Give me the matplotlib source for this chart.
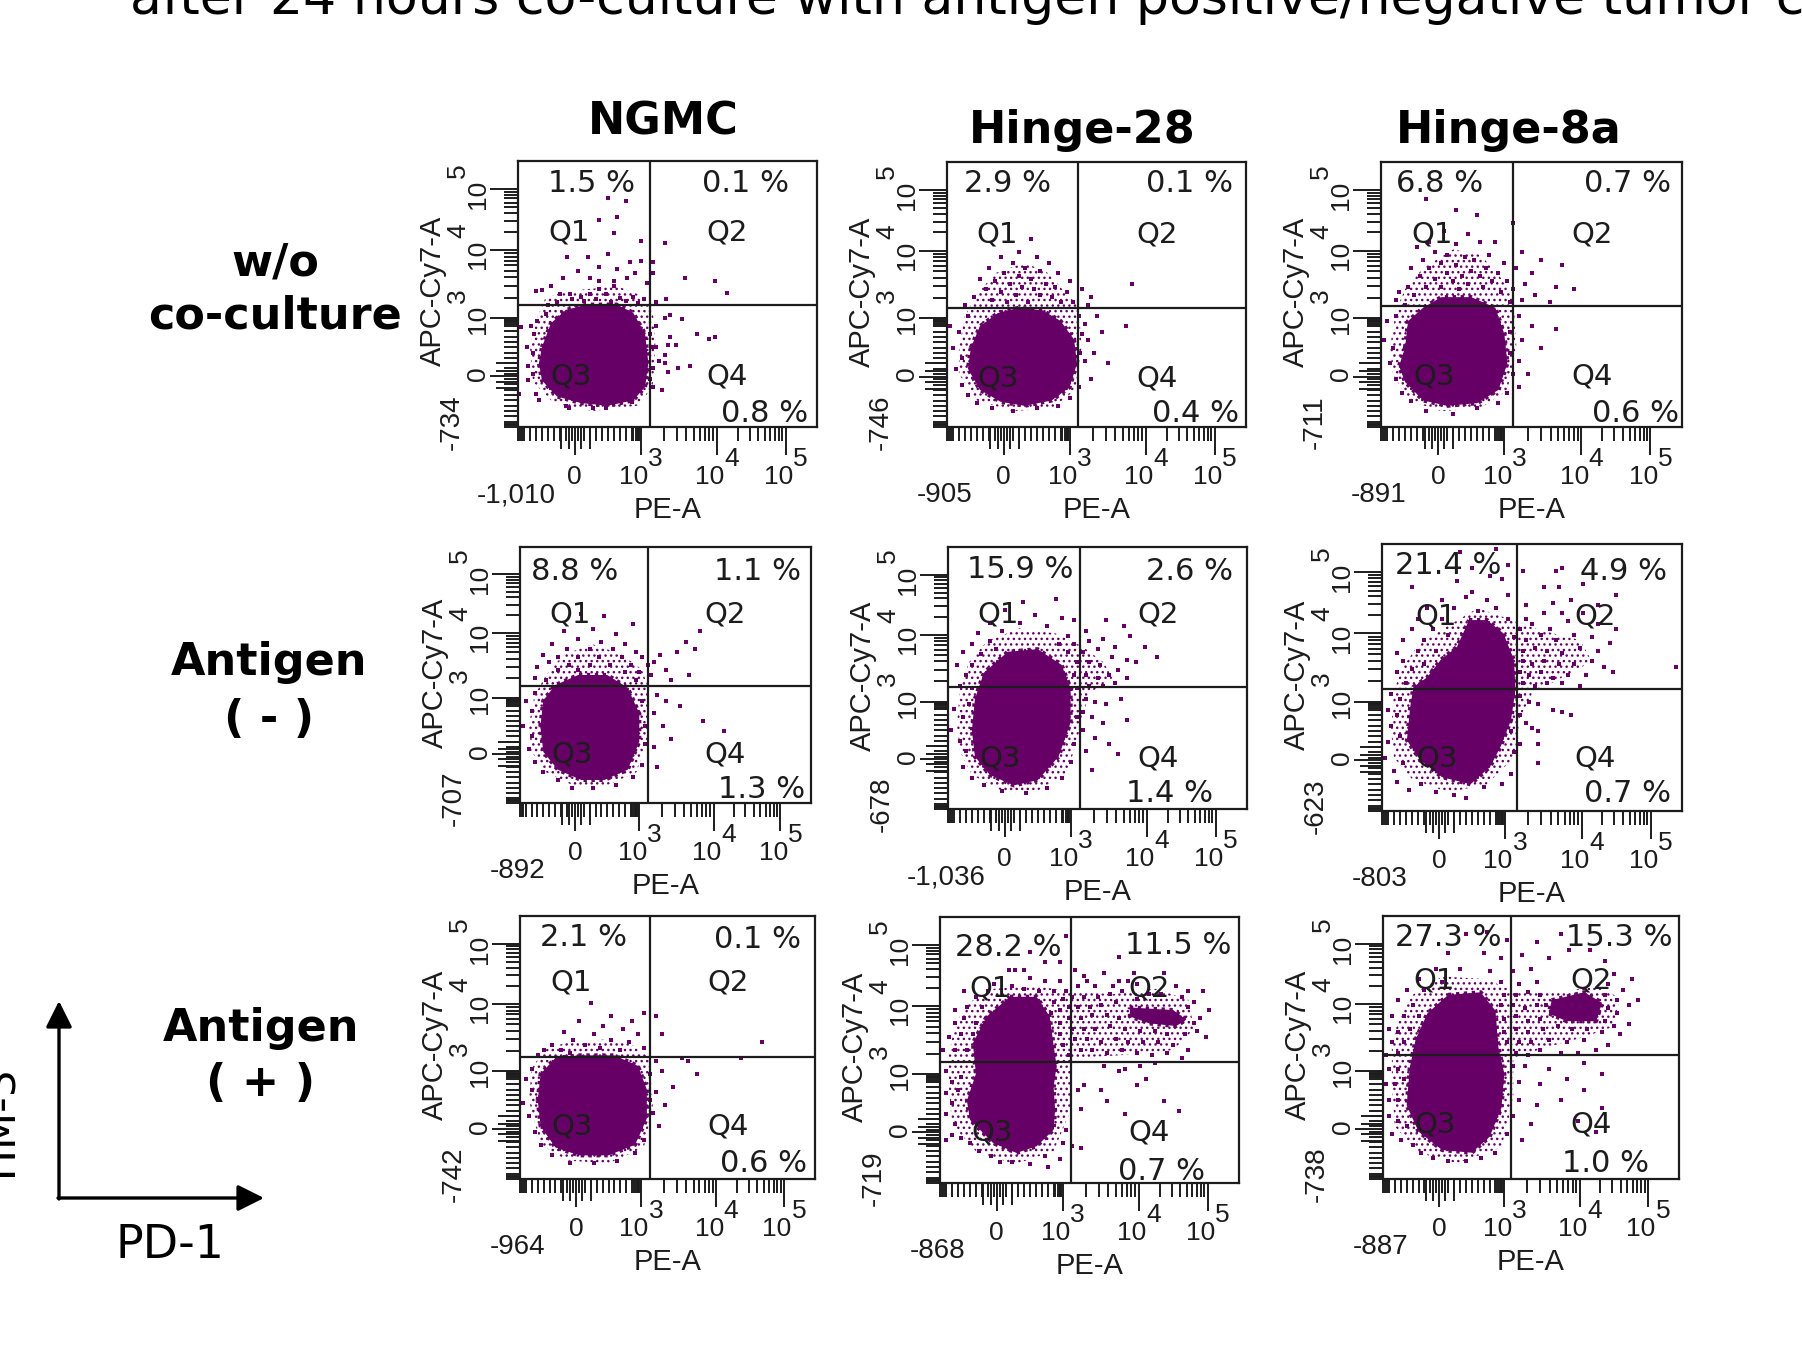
import numpy as np
import matplotlib
matplotlib.use('Agg')
import matplotlib.pyplot as plt

W, H = 1802, 1363
PURPLE = '#660066'
INK = '#1c1c1c'

# everything below is in channel units, 0-100 across each plot box
x_ticks_major = [19, 41, 66.5, 89.5]
y_ticks_major = [20, 42.7, 67, 89.7]

# panel boxes: left, right, top, bottom, x gate, y gate
boxes = [
    [518, 817, 161, 427, 44.0, 45.8], [947, 1246, 162, 427, 43.8, 45.0], [1381, 1682, 162, 427, 43.9, 45.7],
    [520, 811, 547, 803, 44.0, 45.7], [948, 1247, 547, 809, 44.1, 46.6], [1382, 1682, 544, 811, 45.0, 45.7],
    [520, 815, 916, 1179, 44.0, 46.4], [940, 1239, 917, 1183, 43.8, 45.5], [1383, 1679, 916, 1179, 43.2, 47.0],
]
x_low_labels = ['-1,010', '-905', '-891', '-892', '-1,036', '-803', '-964', '-868', '-887']
y_low_labels = ['-734', '-746', '-711', '-707', '-678', '-623', '-742', '-719', '-738']

pct_q1 = ['1.5 %', '2.9 %', '6.8 %', '8.8 %', '15.9 %', '21.4 %', '2.1 %', '28.2 %', '27.3 %']
pct_q2 = ['0.1 %', '0.1 %', '0.7 %', '1.1 %', '2.6 %', '4.9 %', '0.1 %', '11.5 %', '15.3 %']
pct_q4 = ['0.8 %', '0.4 %', '0.6 %', '1.3 %', '1.4 %', '0.7 %', '0.6 %', '0.7 %', '1.0 %']
pos_q1 = [(591, 184), (1008, 184), (1440, 184), (575, 572), (1020, 570), (1448, 566), (584, 937), (1008, 948), (1448, 937)]
pos_q2 = [(745, 184), (1189, 184), (1628, 184), (758, 572), (1189, 572), (1624, 572), (758, 940), (1178, 945), (1619, 937)]
pos_q4 = [(765, 413), (1196, 414), (1636, 414), (762, 790), (1170, 794), (1628, 794), (764, 1164), (1162, 1171), (1606, 1164)]
pos_gate = [
    [(569, 232), (727, 232), (571, 376), (727, 376)], [(997, 234), (1157, 234), (998, 378), (1157, 378)],
    [(1432, 234), (1592, 234), (1434, 376), (1592, 377)], [(570, 615), (725, 615), (572, 754), (725, 754)],
    [(998, 615), (1158, 615), (1000, 758), (1158, 758)], [(1436, 616), (1595, 616), (1437, 758), (1595, 758)],
    [(571, 983), (728, 983), (572, 1127), (728, 1127)], [(990, 989), (1149, 989), (992, 1132), (1149, 1132)],
    [(1434, 981), (1591, 981), (1435, 1125), (1591, 1125)],
]

# solid middle of each cloud
core_ngmc_none = [(8, 30), (11, 39), (16, 44), (23, 46), (33, 46), (38.5, 43), (42.5, 35), (43.6, 24), (42.5, 15), (38.5, 10), (30, 8), (21, 9), (13, 11.5), (8, 17.5), (7, 24)]
core_h28_none = [(8, 30), (11, 38), (17, 43), (24, 45), (32, 44), (38, 40), (42.5, 33), (43.5, 24), (41, 15), (35, 10), (26, 8), (18, 9.5), (11, 14), (7, 22)]
core_h8a_none = [(8, 30), (9, 40), (14, 45), (20, 49), (30, 49), (38, 45), (41, 35), (42, 24), (39, 14), (32, 9), (22, 8), (14, 10), (8, 17), (6, 23)]
core_ngmc_neg = [(7, 30), (8, 40), (12, 46), (20, 50), (30, 50), (37, 45), (41, 35), (41, 24), (37, 13), (29, 9), (21, 9), (13, 13), (8, 20)]
core_h28_neg = [(8, 30), (9, 42), (12, 52), (20, 60), (30, 61), (38, 55), (41, 46), (41, 33), (37, 20), (30, 11), (22, 9), (14, 13), (9, 20)]
core_h8a_neg = [(29, 71.5), (35, 71.5), (40.5, 66.5), (44, 56.5), (44.5, 45.5), (43, 34), (39.5, 24), (36, 16.5), (29.5, 10), (20, 12.7), (12.8, 19), (8.3, 26.5), (9.4, 39), (10.5, 46.5), (15, 50), (19.5, 56.5), (25, 61.5)]
core_ngmc_pos = [(6, 30), (7, 40), (12, 46), (20, 47), (32, 47), (40, 43), (43, 34), (43, 23), (39, 13), (30, 9), (20, 9), (12, 12), (7, 20)]
core_h28_pos = [(23.4, 70), (32.3, 70), (36.7, 62.6), (37.9, 52.6), (39, 44), (38, 36), (38.5, 27.6), (38, 20), (32.3, 13.8), (25.6, 11.3), (17.8, 15), (10, 23.8), (9, 31), (12, 41), (11, 52.6), (15.6, 62.6)]
core_h28_pos2 = [(63.5, 66), (78, 65), (82.4, 61.4), (79, 59), (70, 60), (63.5, 62.6)]
core_h8a_pos = [(22, 70), (33, 71), (38, 64), (39, 50), (41, 40), (40, 27), (36, 16), (30, 10), (20, 11), (12, 18), (8, 28), (9, 42), (11, 53), (15, 63)]
core_h8a_pos2 = [(57, 68), (68, 71), (74, 67), (72, 60), (62, 60), (56, 63)]

# speckled shoulder around each core
halo_ngmc_none = [(4, 30), (6, 40), (9, 48), (15, 51), (25, 52), (33, 53), (40, 50), (45, 45), (46, 30), (45, 15), (40, 8), (25, 6), (12, 9), (5, 17)]
halo_h28_none = [(4, 30), (6, 42), (10, 50), (16, 58), (26, 62), (34, 58), (40, 50), (44, 46), (45, 30), (43, 14), (35, 7), (22, 6), (10, 10), (4, 20)]
halo_h8a_none = [(3, 30), (5, 44), (8, 52), (14, 60), (24, 67), (33, 65), (40, 56), (44, 48), (45, 30), (42, 14), (33, 7), (20, 6), (9, 10), (4, 20)]
halo_ngmc_neg = [(3, 30), (5, 42), (9, 50), (15, 58), (25, 62), (35, 58), (42, 52), (44, 45), (44, 25), (40, 12), (30, 7), (18, 7), (9, 12), (4, 20)]
halo_h28_neg = [(3, 32), (4, 46), (7, 56), (13, 64), (24, 69), (36, 67), (45, 62), (52, 56), (55, 50), (47, 44), (44, 30), (40, 14), (30, 7), (18, 7), (8, 13), (4, 22)]
halo_h8a_neg = [(3, 30), (4, 45), (7, 54), (12, 62), (20, 68), (32, 76), (42, 72), (52, 68), (66, 64), (70, 56), (60, 50), (50, 44), (46, 35), (44, 20), (35, 10), (22, 7), (10, 12), (4, 20)]
halo_ngmc_pos = [(3, 30), (4, 42), (8, 49), (16, 52), (28, 53), (38, 51), (44, 46), (45, 28), (42, 12), (30, 6), (16, 7), (7, 13)]
halo_h28_pos = [(3, 36), (3, 48), (5, 60), (10, 68), (18, 73), (32, 74), (44, 72), (58, 71), (72, 73), (83, 69), (85, 58), (78, 50), (60, 48), (44, 47), (44, 28), (38, 12), (25, 7), (12, 12), (4, 22)]
halo_h8a_pos = [(3, 36), (3, 50), (5, 60), (10, 70), (20, 77), (35, 76), (45, 71), (58, 71), (72, 73), (80, 69), (78, 58), (68, 54), (55, 50), (44, 46), (44, 30), (40, 12), (25, 6), (12, 10), (4, 20)]

# scattered single events
dots_ngmc_none = [(30, 86), (36, 85), (27, 78), (33, 79), (32, 73), (41, 70), (49, 69), (30, 65), (23.5, 64), (16.5, 64), (37.5, 62), (41, 62.5), (45, 62), (27, 60), (20, 58.5), (33, 59.5), (15, 56), (39, 58), (56, 56), (66, 55), (70, 50.5), (45, 58), (27, 55), (32, 55), (36.5, 56), (43, 54), (24, 56), (6, 51), (8, 51.5), (11, 53), (14, 50), (17.5, 50), (21, 49), (24, 50), (27, 52), (29.5, 50), (32, 53), (34, 48.5), (38.5, 49), (42, 48), (49.5, 48), (46, 47), (51, 42), (55, 40.5), (46, 38), (49, 41), (51, 34), (53, 31), (50, 31), (60, 35), (64, 33), (66, 34), (49, 27), (49, 24), (53.5, 22), (57.5, 23), (50, 20.5), (48, 14), (46, 30), (47, 25), (1, 37.5), (4.5, 38), (5.5, 35), (3, 30), (5, 28), (3.5, 23), (5, 20), (3.5, 17.5), (6, 12.5), (0.5, 12.5), (7, 10), (6.5, 40), (9.5, 42.5), (16, 8), (17, 7), (25, 7), (29.5, 7), (38, 9.5), (45, 15), (45, 22), (45, 30), (44, 35), (44, 18), (10, 46), (13, 47), (18, 48), (22, 47.5), (26, 48), (31, 47), (36, 47.5), (40, 46.5)]
dots_h28_none = [(28, 71), (24, 66), (30, 64), (18, 64), (34, 62), (22, 62), (26, 60), (14, 60), (31, 59), (37, 58), (19, 58), (41, 55), (24, 57), (28, 56), (11, 56), (16, 55), (21, 54), (33, 54), (36, 53), (25, 53), (29, 52), (13, 52), (18, 51), (40, 51), (45, 52), (48, 49), (23, 50), (31, 50), (35, 49), (9, 49), (15, 48), (20, 47), (27, 47), (38, 47), (42, 47), (6, 46), (47, 46), (50, 42), (46, 39), (52, 36), (47, 33), (60, 38), (49, 28), (46, 25), (54, 24), (48, 18), (62, 54), (1, 38), (4, 36), (2, 30), (5, 26), (3, 22), (5, 16), (7, 12), (10, 9), (15, 7), (22, 6), (30, 7), (37, 8), (41, 11), (44, 15), (44.5, 28), (45, 35), (7, 42), (44, 42)]
dots_h8a_none = [(15, 86), (25, 82), (32, 80), (38, 70), (44, 77), (21, 74), (29, 73), (16, 70), (33, 70), (12, 68), (25, 69), (18, 66), (36, 65), (22, 65), (28, 64), (31, 63), (14, 63), (41, 62), (47, 66), (53, 63), (60, 61), (20, 62), (25, 61), (35, 60), (10, 60), (16, 60), (30, 59), (39, 58), (45, 60), (50, 58), (22, 58), (27, 57), (33, 57), (13, 57), (18, 56), (37, 55), (42, 55), (48, 54), (58, 53), (24, 55), (29, 54), (9, 53), (15, 53), (20, 53), (34, 53), (44, 52), (51, 50), (64, 52), (6, 51), (11, 50), (26, 52), (40, 51), (47, 48), (56, 47), (5, 48), (43, 47), (46, 42), (50, 38), (58, 37), (47, 33), (53, 30), (46, 25), (49, 20), (46, 15), (2, 40), (5, 42), (1, 33), (4, 30), (3, 24), (5, 18), (7, 13), (10, 10), (15, 6), (24, 5), (32, 7), (39, 9), (42, 13), (44, 20), (43, 28), (43, 36), (8, 46)]
dots_ngmc_neg = [(21, 74), (29, 73), (39, 70), (25, 68), (15, 67), (33, 66), (20, 64), (28, 63), (11, 62), (36, 62), (16, 60), (24, 60), (32, 60), (40, 59), (8, 58), (13, 57), (20, 57), (27, 57), (35, 57), (42, 57), (10, 55), (17, 54), (24, 54), (31, 54), (38, 54), (44, 54), (6, 53), (13, 52), (20, 52), (36, 51), (41, 51), (46, 55), (5, 49), (9, 48), (40, 48), (45, 50), (50, 52), (54, 59), (57, 63), (62, 67), (60, 60), (48, 58), (52, 48), (58, 50), (47, 42), (50, 40), (55, 38), (46, 35), (49, 30), (52, 25), (46, 22), (63, 32), (70, 28), (47, 14), (2, 40), (4, 36), (1, 30), (4, 26), (3, 21), (5, 16), (8, 12), (13, 9), (18, 6), (25, 6), (33, 7), (39, 10), (42, 15), (43, 23), (43, 30), (42, 40), (5, 43)]
dots_h28_neg = [(25, 79), (36, 80), (19, 76), (29, 74), (38, 73), (14, 71), (24, 71), (33, 70), (42, 72), (10, 67), (18, 68), (40, 66), (46, 68), (53, 72), (59, 70), (8, 63), (14, 64), (37, 63), (42, 63), (47, 64), (52, 65), (56, 62), (61, 66), (5, 60), (11, 59), (16, 61), (40, 60), (45, 60), (50, 61), (55, 58), (60, 57), (66, 62), (3, 55), (8, 55), (43, 56), (47, 56), (51, 55), (57, 53), (63, 56), (70, 58), (6, 51), (42, 51), (46, 51), (50, 50), (54, 51), (60, 50), (4, 47), (8, 46), (43, 46), (47, 47), (52, 47), (56, 48), (46, 42), (49, 41), (53, 40), (58, 42), (45, 37), (48, 35), (52, 33), (60, 34), (45, 30), (49, 27), (54, 25), (46, 22), (57, 21), (48, 15), (2, 38), (5, 35), (1, 30), (4, 26), (6, 22), (5, 16), (8, 12), (12, 9), (18, 7), (26, 6), (33, 8), (38, 12), (41, 18), (42, 25), (43, 35), (7, 40)]
dots_h8a_neg = [(26, 97), (38, 98), (30, 91), (36, 88), (42, 92), (47, 90), (58, 90), (60, 91), (10, 84), (25, 86), (40, 87), (54, 84), (59, 84), (67, 85), (78, 81), (30, 82), (20, 79), (28, 80), (35, 79), (42, 81), (15, 76), (24, 76), (32, 75), (38, 76), (48, 77), (57, 78), (63, 79), (72, 77), (12, 72), (20, 72), (42, 72), (48, 72), (54, 74), (60, 74), (67, 74), (10, 68), (17, 68), (46, 68), (50, 70), (56, 68), (62, 71), (72, 70), (78, 68), (7, 64), (14, 64), (22, 66), (44, 65), (48, 64), (53, 66), (58, 64), (64, 66), (70, 65), (76, 63), (5, 59), (12, 60), (18, 60), (47, 60), (51, 61), (55, 60), (60, 59), (66, 61), (72, 60), (7, 56), (14, 55), (47, 56), (50, 55), (54, 56), (59, 55), (64, 55), (70, 56), (5, 52), (10, 53), (46, 52), (49, 51), (53, 52), (57, 50), (62, 51), (68, 51), (74, 54), (77, 52), (8, 48), (47, 48), (51, 47), (55, 48), (60, 48), (66, 47), (98, 54), (3, 44), (6, 42), (46, 43), (49, 41), (52, 40), (57, 38), (60, 37), (63, 36), (2, 38), (5, 36), (46, 36), (48, 33), (50, 31), (52, 30), (3, 32), (6, 28), (2, 26), (1, 20), (4, 15), (7, 18), (5, 11), (9, 8), (13, 10), (18, 7), (24, 6), (28, 5), (34, 9), (40, 10), (43, 14), (46, 25), (52, 25), (52, 18), (44, 22), (43, 30)]
dots_ngmc_pos = [(24, 67), (31, 62), (38, 60), (42, 63), (20, 60), (28, 58), (35, 57), (15, 56), (25, 55), (40, 55), (18, 53), (31, 53), (46, 62), (48, 55), (11, 51), (22, 51), (37, 52), (8, 49), (14, 49), (27, 50), (42, 50), (6, 47), (17, 48), (34, 49), (46, 45), (55, 46), (60, 40), (48, 41), (52, 35), (57, 45), (75, 46), (82, 52), (46, 33), (49, 28), (45, 25), (47, 20), (2, 38), (4, 34), (1, 29), (3, 24), (5, 18), (7, 13), (11, 9), (17, 6), (25, 6), (33, 7), (39, 10), (42, 15), (44, 30), (44, 40), (4, 42)]
dots_h28_pos = [(42, 93), (30, 87), (35, 83), (40, 83), (60, 85), (23, 80), (25, 80), (28, 80), (45, 80), (48, 78), (55, 79), (65, 79), (75, 79), (30, 77), (35, 76), (40, 76), (49, 76), (60, 76), (18, 75), (24, 74), (28, 73), (33, 72), (38, 72), (42, 72), (46, 74), (52, 74), (58, 74), (63, 76), (66, 75), (79, 74), (83, 72), (88, 72), (8, 72), (12, 70), (16, 72), (38, 68), (41, 69), (44, 70), (48, 70), (53, 70), (57, 71), (61, 72), (70, 71), (74, 71), (81, 70), (85, 68), (90, 65), (5, 65), (9, 66), (14, 66), (37, 64), (40, 65), (43, 66), (46, 66), (50, 66), (54, 67), (59, 68), (66, 69), (83, 66), (87, 62), (5, 60), (8, 62), (12, 60), (40, 60), (43, 62), (47, 62), (51, 63), (56, 63), (60, 62), (85, 60), (89, 55), (3, 55), (7, 56), (11, 56), (40, 56), (44, 58), (48, 58), (52, 58), (57, 59), (62, 58), (67, 57), (72, 57), (76, 56), (82, 56), (86, 57), (1, 50), (5, 50), (9, 50), (41, 52), (45, 54), (49, 54), (54, 53), (59, 54), (63, 53), (68, 53), (73, 53), (78, 52), (83, 50), (47, 50), (51, 50), (56, 49), (61, 50), (66, 49), (71, 48), (76, 49), (81, 47), (43, 48), (2, 42), (4, 38), (7, 40), (2, 34), (4, 30), (6, 35), (2, 26), (5, 22), (2, 16), (4, 18), (7, 17), (10, 15), (13, 12), (17, 10), (20, 8), (24, 8), (30, 7), (35, 10), (40, 9), (36, 6), (41, 15), (42, 20), (44, 14), (47, 13), (46, 35), (48, 37), (54, 35), (56, 31), (60, 42), (55, 44), (62, 43), (67, 44), (72, 45), (66, 37), (69, 39), (75, 31), (80, 27), (62, 26), (47, 28)]
dots_h8a_pos = [(28, 93), (35, 94), (42, 91), (52, 90), (60, 93), (70, 87), (22, 86), (34, 86), (40, 84), (47, 85), (56, 84), (63, 87), (75, 83), (18, 80), (26, 80), (36, 79), (44, 79), (50, 80), (78, 78), (84, 76), (12, 76), (20, 75), (40, 75), (46, 74), (52, 75), (76, 74), (81, 72), (8, 72), (14, 72), (41, 70), (45, 70), (49, 71), (53, 70), (75, 70), (79, 68), (83, 66), (5, 68), (10, 66), (40, 66), (44, 66), (48, 65), (52, 66), (55, 66), (76, 65), (79, 63), (86, 68), (3, 62), (7, 62), (12, 62), (41, 61), (45, 62), (49, 60), (53, 61), (75, 60), (78, 58), (83, 59), (2, 57), (5, 56), (9, 57), (41, 56), (45, 57), (49, 56), (54, 57), (59, 58), (64, 57), (69, 57), (74, 56), (80, 55), (3, 52), (7, 52), (42, 52), (46, 52), (50, 52), (56, 53), (62, 52), (68, 53), (76, 51), (1, 47), (5, 48), (45, 48), (49, 47), (53, 49), (60, 48), (66, 48), (72, 49), (2, 42), (5, 42), (44, 43), (48, 43), (56, 42), (68, 44), (74, 40), (1, 36), (4, 36), (7, 38), (46, 37), (53, 36), (62, 38), (68, 34), (2, 30), (5, 30), (46, 30), (52, 28), (60, 30), (74, 27), (2, 24), (5, 22), (8, 20), (44, 24), (50, 21), (66, 22), (3, 17), (6, 15), (10, 13), (42, 17), (47, 15), (72, 18), (13, 10), (17, 8), (22, 7), (28, 7), (33, 8), (38, 10)]

titles = ['NGMC', 'Hinge-28', 'Hinge-8a']
title_pos = [(663, 122), (1082, 130), (1509, 130)]
row_labels = [['w/o', 'co-culture'], ['Antigen', '( - )'], ['Antigen', '( + )']]
row_pos = [[(275, 263), (275, 316)], [(269, 663), (269, 719)], [(261, 1028), (261, 1083)]]

cores = [[core_ngmc_none], [core_h28_none], [core_h8a_none],
         [core_ngmc_neg], [core_h28_neg], [core_h8a_neg],
         [core_ngmc_pos], [core_h28_pos, core_h28_pos2], [core_h8a_pos, core_h8a_pos2]]
halos = [halo_ngmc_none, halo_h28_none, halo_h8a_none,
         halo_ngmc_neg, halo_h28_neg, halo_h8a_neg,
         halo_ngmc_pos, halo_h28_pos, halo_h8a_pos]
dots = [dots_ngmc_none, dots_h28_none, dots_h8a_none,
        dots_ngmc_neg, dots_h28_neg, dots_h8a_neg,
        dots_ngmc_pos, dots_h28_pos, dots_h8a_pos]


def tick_sets():
    # biexponential style ruler: linear under 10^3, log above
    long_t = [19, 41, 66.5, 89.5]
    mid_t = [17, 21, 14.5, 24]
    short_t = list(np.arange(0, 41, 2.0)) + [0.6, 1.2, 38.6, 39.3, 40, 40.6]
    for a, b in [(41, 66.5), (66.5, 89.5)]:
        short_t += [a + (b - a) * np.log10(m) for m in range(2, 10)]
    return long_t, mid_t, short_t


plt.rcParams['font.family'] = ['Liberation Sans', 'DejaVu Sans']
fig = plt.figure(figsize=(W / 100, H / 100), dpi=100, facecolor='white')
long_t, mid_t, short_t = tick_sets()

for i, (l, r, t, b, gx, gy) in enumerate(boxes):
    ax = fig.add_axes([l / W, 1 - b / H, (r - l) / W, (b - t) / H])
    ax.set_xlim(0, 100)
    ax.set_ylim(0, 100)
    ax.set_xticks([])
    ax.set_yticks([])
    for s in ax.spines.values():
        s.set_linewidth(1.6)
        s.set_color(INK)
    ax.fill([p[0] for p in halos[i]], [p[1] for p in halos[i]], facecolor='none',
            edgecolor=PURPLE, hatch='...', lw=0, zorder=2)
    for poly in cores[i]:
        xs = [p[0] for p in poly]
        ys = [p[1] for p in poly]
        ax.fill(xs, ys, color=PURPLE, lw=0, zorder=2)
        ax.plot(xs + xs[:1], ys + ys[:1], color=PURPLE, lw=3, ls=(0, (0.8, 1.1)), zorder=2)
    ax.scatter([p[0] for p in dots[i]], [p[1] for p in dots[i]], s=7, marker='s',
               color=PURPLE, linewidths=0, zorder=2)
    ax.axvline(gx, color=INK, lw=1.6, zorder=3)
    ax.axhline(gy, color=INK, lw=1.6, zorder=3)

    # rulers
    sx = 100 / (b - t)
    sy = 100 / (r - l)
    for vals, length in [(long_t, 28), (mid_t, 22), (short_t, 14)]:
        ax.vlines(vals, 0, -length * sx, color=INK, lw=1.4, clip_on=False)
        ax.hlines(vals, 0, -length * sy, color=INK, lw=1.4, clip_on=False)

ov = fig.add_axes([0, 0, 1, 1], zorder=10)
ov.set_xlim(0, W)
ov.set_ylim(H, 0)
ov.axis('off')
ov.patch.set_alpha(0)

for i, (l, r, t, b, gx, gy) in enumerate(boxes):
    w = r - l
    h = b - t
    # x axis labels
    for v, txt, exp in [(x_ticks_major[0], '0', ''), (x_ticks_major[1], '10', '3'),
                        (x_ticks_major[2], '10', '4'), (x_ticks_major[3], '10', '5')]:
        px = l + w * v / 100
        if exp:
            ov.text(px - 7, b + 50, txt, fontsize=19, ha='center', va='center', color=INK)
            ov.text(px + 15, b + 32, exp, fontsize=19, ha='center', va='center', color=INK)
        else:
            ov.text(px, b + 50, txt, fontsize=19, ha='center', va='center', color=INK)
    ov.text(l - 2, b + 68, x_low_labels[i], fontsize=20, ha='center', va='center', color=INK)
    ov.text(l + w / 2, b + 83, 'PE-A', fontsize=21, ha='center', va='center', color=INK)
    # y axis labels
    for v, txt, exp in [(y_ticks_major[0], '0', ''), (y_ticks_major[1], '10', '3'),
                        (y_ticks_major[2], '10', '4'), (y_ticks_major[3], '10', '5')]:
        py = b - h * v / 100
        if exp:
            ov.text(l - 40, py + 6, txt, fontsize=19, rotation=90, ha='center', va='center', color=INK)
            ov.text(l - 60, py - 18, exp, fontsize=19, rotation=90, ha='center', va='center', color=INK)
        else:
            ov.text(l - 40, py, txt, fontsize=19, rotation=90, ha='center', va='center', color=INK)
    ov.text(l - 66, b - 5, y_low_labels[i], fontsize=20, rotation=90, ha='center', va='center', color=INK)
    ov.text(l - 85, t + h * 0.49, 'APC-Cy7-A', fontsize=21, rotation=90, ha='center', va='center', color=INK)
    # gate text
    for (px, py), txt in zip([pos_q1[i], pos_q2[i], pos_q4[i]], [pct_q1[i], pct_q2[i], pct_q4[i]]):
        ov.text(px, py, txt, fontsize=22, family='DejaVu Sans', ha='center', va='center', color=INK)
    for (px, py), txt in zip(pos_gate[i], ['Q1', 'Q2', 'Q3', 'Q4']):
        ov.text(px, py, txt, fontsize=21, family='DejaVu Sans', ha='center', va='center', color=INK)

for (px, py), txt in zip(title_pos, titles):
    ov.text(px, py, txt, fontsize=32, family='DejaVu Sans', weight='bold', ha='center', va='center', color='black')
for row, poss in zip(row_labels, row_pos):
    for txt, (px, py) in zip(row, poss):
        ov.text(px, py, txt, fontsize=32, family='DejaVu Sans', weight='bold', ha='center', va='center', color='black')

# cropped headline and axis key
ov.text(130, 14, 'after 24 hours co-culture with antigen positive/negative tumor cells',
        fontsize=37.5, family='DejaVu Sans', ha='left', va='baseline', color='black')
ov.text(17, 1188, 'TIM-3', fontsize=31, family='DejaVu Sans', rotation=90, ha='left', va='baseline',
        rotation_mode='anchor', color='black')
ov.text(170, 1245, 'PD-1', fontsize=33, family='DejaVu Sans', ha='center', va='center', color='black')
ov.annotate('', xy=(59, 1001), xytext=(59, 1199),
            arrowprops=dict(arrowstyle='-|>,head_length=1.0,head_width=0.5', lw=2.4, color='black', shrinkA=0, shrinkB=0, mutation_scale=16))
ov.annotate('', xy=(264, 1198), xytext=(58, 1198),
            arrowprops=dict(arrowstyle='-|>,head_length=1.0,head_width=0.5', lw=2.4, color='black', shrinkA=0, shrinkB=0, mutation_scale=16))

fig.savefig('out.png', dpi=100)
